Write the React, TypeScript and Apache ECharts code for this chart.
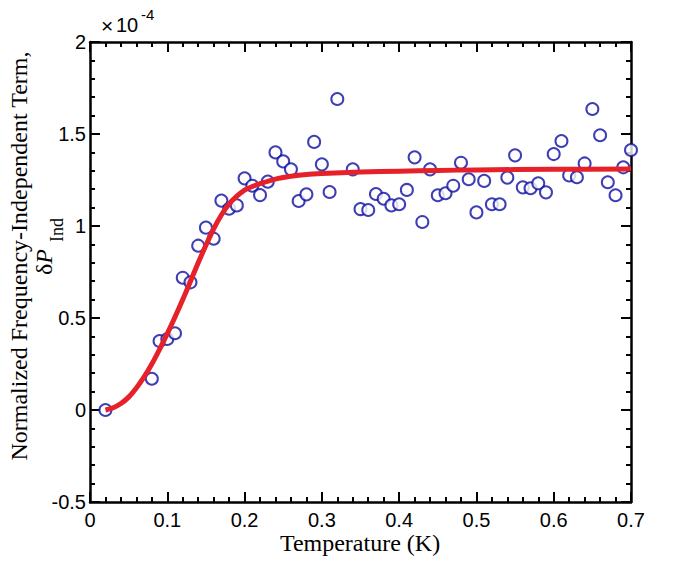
import React, { useEffect, useRef } from "react";
import * as echarts from "echarts";

const xTicks = [0, 0.1, 0.2, 0.3, 0.4, 0.5, 0.6, 0.7];
const yTicks = [-0.5, 0, 0.5, 1, 1.5, 2];

const scatterX = [
  0.02, 0.08, 0.09, 0.1, 0.11, 0.12, 0.13, 0.14, 0.15, 0.16, 0.17, 0.18, 0.19, 0.2, 0.21, 0.22, 0.23,
  0.24, 0.25, 0.26, 0.27, 0.28, 0.29, 0.3, 0.31, 0.32, 0.34, 0.35, 0.36, 0.37, 0.38, 0.39, 0.4, 0.41,
  0.42, 0.43, 0.44, 0.45, 0.46, 0.47, 0.48, 0.49, 0.5, 0.51, 0.52, 0.53, 0.54, 0.55, 0.56, 0.57, 0.58,
  0.59, 0.6, 0.61, 0.62, 0.63, 0.64, 0.65, 0.66, 0.67, 0.68, 0.69, 0.7,
];
const scatterY = [
  0.0, 0.17, 0.375, 0.386, 0.417, 0.719, 0.694, 0.893, 0.991, 0.931, 1.138, 1.094, 1.112, 1.259, 1.219,
  1.168, 1.241, 1.4, 1.351, 1.308, 1.136, 1.172, 1.457, 1.335, 1.185, 1.69, 1.308, 1.092, 1.087, 1.174,
  1.148, 1.112, 1.118, 1.196, 1.373, 1.022, 1.308, 1.167, 1.178, 1.219, 1.344, 1.254, 1.074, 1.245,
  1.118, 1.118, 1.263, 1.384, 1.21, 1.205, 1.232, 1.183, 1.391, 1.462, 1.275, 1.265, 1.34, 1.636,
  1.493, 1.238, 1.167, 1.319, 1.413,
];

const fitX = [
  0.02, 0.03, 0.04, 0.05, 0.06, 0.07, 0.08, 0.09, 0.1, 0.11, 0.12, 0.13, 0.14, 0.15, 0.16, 0.17, 0.18,
  0.19, 0.2, 0.21, 0.22, 0.24, 0.26, 0.28, 0.3, 0.35, 0.4, 0.45, 0.5, 0.6, 0.7,
];
const fitY = [
  0, 0.012, 0.035, 0.07, 0.12, 0.18, 0.25, 0.33, 0.415, 0.505, 0.6, 0.7, 0.8, 0.895, 0.985, 1.06, 1.12,
  1.162, 1.195, 1.215, 1.23, 1.255, 1.27, 1.28, 1.285, 1.293, 1.298, 1.302, 1.305, 1.308, 1.31,
];

const xTitle = "Temperature (K)";
const yTitle = "Normalized Frequency-Independent Term,";

export default function App() {
  const ref = useRef<HTMLDivElement>(null);
  useEffect(() => {
    document.body.style.margin = "0";
    if (!ref.current) return;
    const chart = echarts.init(ref.current, undefined, { renderer: "svg" });
    const sans = "Liberation Sans";
    const serif = "Liberation Serif";
    const axisCommon = {
      axisLine: { show: true, onZero: false, lineStyle: { color: "#000", width: 2.5 } },
      axisTick: { show: true, inside: true, length: 10, lineStyle: { color: "#000", width: 2 } },
      minorTick: { show: true, splitNumber: 5, length: 5, lineStyle: { color: "#000", width: 2 } },
      splitLine: { show: false },
      minorSplitLine: { show: false },
    };
    const xMin = xTicks[0];
    const xMax = xTicks[xTicks.length - 1];
    const yMin = yTicks[0];
    const yMax = yTicks[yTicks.length - 1];
    chart.setOption({
      animation: false,
      backgroundColor: "#fff",
      grid: { left: 90, top: 42, right: 67, bottom: 63, containLabel: false },
      xAxis: [
        {
          type: "value",
          position: "bottom",
          min: xMin,
          max: xMax,
          interval: 0.1,
          ...axisCommon,
          axisLabel: { show: true, margin: 8, color: "#000", fontFamily: sans, fontSize: 20 },
        },
        {
          type: "value",
          position: "top",
          min: xMin,
          max: xMax,
          interval: 0.1,
          ...axisCommon,
          axisLabel: { show: false },
        },
      ],
      yAxis: [
        {
          type: "value",
          position: "left",
          min: yMin,
          max: yMax,
          interval: 0.5,
          ...axisCommon,
          axisLabel: { show: true, margin: 4, color: "#000", fontFamily: sans, fontSize: 20 },
        },
        {
          type: "value",
          position: "right",
          min: yMin,
          max: yMax,
          interval: 0.5,
          ...axisCommon,
          axisLabel: { show: false },
        },
      ],
      series: [
        {
          type: "scatter",
          data: scatterX.map((x, i) => [x, scatterY[i]]),
          symbol: "emptyCircle",
          symbolSize: 12,
          itemStyle: { color: "#0e0ea2", borderColor: "#0e0ea2", borderWidth: 1.7 },
          z: 2,
        },
        {
          type: "line",
          data: fitX.map((x, i) => [x, fitY[i]]),
          smooth: 0.3,
          showSymbol: false,
          symbol: "none",
          lineStyle: { color: "#e62129", width: 5 },
          z: 3,
        },
      ],
      graphic: [
        {
          type: "text",
          x: 360,
          y: 543,
          style: { text: xTitle, font: `24px "${serif}"`, fill: "#000", textAlign: "center", textVerticalAlign: "middle" },
        },
        {
          type: "text",
          x: 19,
          y: 256,
          rotation: Math.PI / 2,
          style: { text: yTitle, font: `24px "${serif}"`, fill: "#000", textAlign: "center", textVerticalAlign: "middle" },
        },
        {
          type: "text",
          x: 44,
          y: 262,
          rotation: Math.PI / 2,
          style: {
            text: "{d|δ}{p|P}",
            textAlign: "center",
            textVerticalAlign: "middle",
            rich: {
              d: { font: `24px "${serif}"`, fill: "#000" },
              p: { font: `italic 24px "${serif}"`, fill: "#000" },
            },
          },
        },
        {
          type: "text",
          x: 57,
          y: 230,
          rotation: Math.PI / 2,
          style: { text: "Ind", font: `18px "${serif}"`, fill: "#000", textAlign: "center", textVerticalAlign: "middle" },
        },
        {
          type: "text",
          x: 101,
          y: 25,
          style: { text: "×", font: `21px "${sans}"`, fill: "#000", textAlign: "left", textVerticalAlign: "middle" },
        },
        {
          type: "text",
          x: 116,
          y: 25,
          style: { text: "10", font: `20px "${sans}"`, fill: "#000", textAlign: "left", textVerticalAlign: "middle" },
        },
        {
          type: "text",
          x: 141,
          y: 14,
          style: { text: "-4", font: `15px "${sans}"`, fill: "#000", textAlign: "left", textVerticalAlign: "middle" },
        },
      ],
    });
    return () => chart.dispose();
  }, []);
  return <div ref={ref} style={{ width: 698, height: 565 }} />;
}
